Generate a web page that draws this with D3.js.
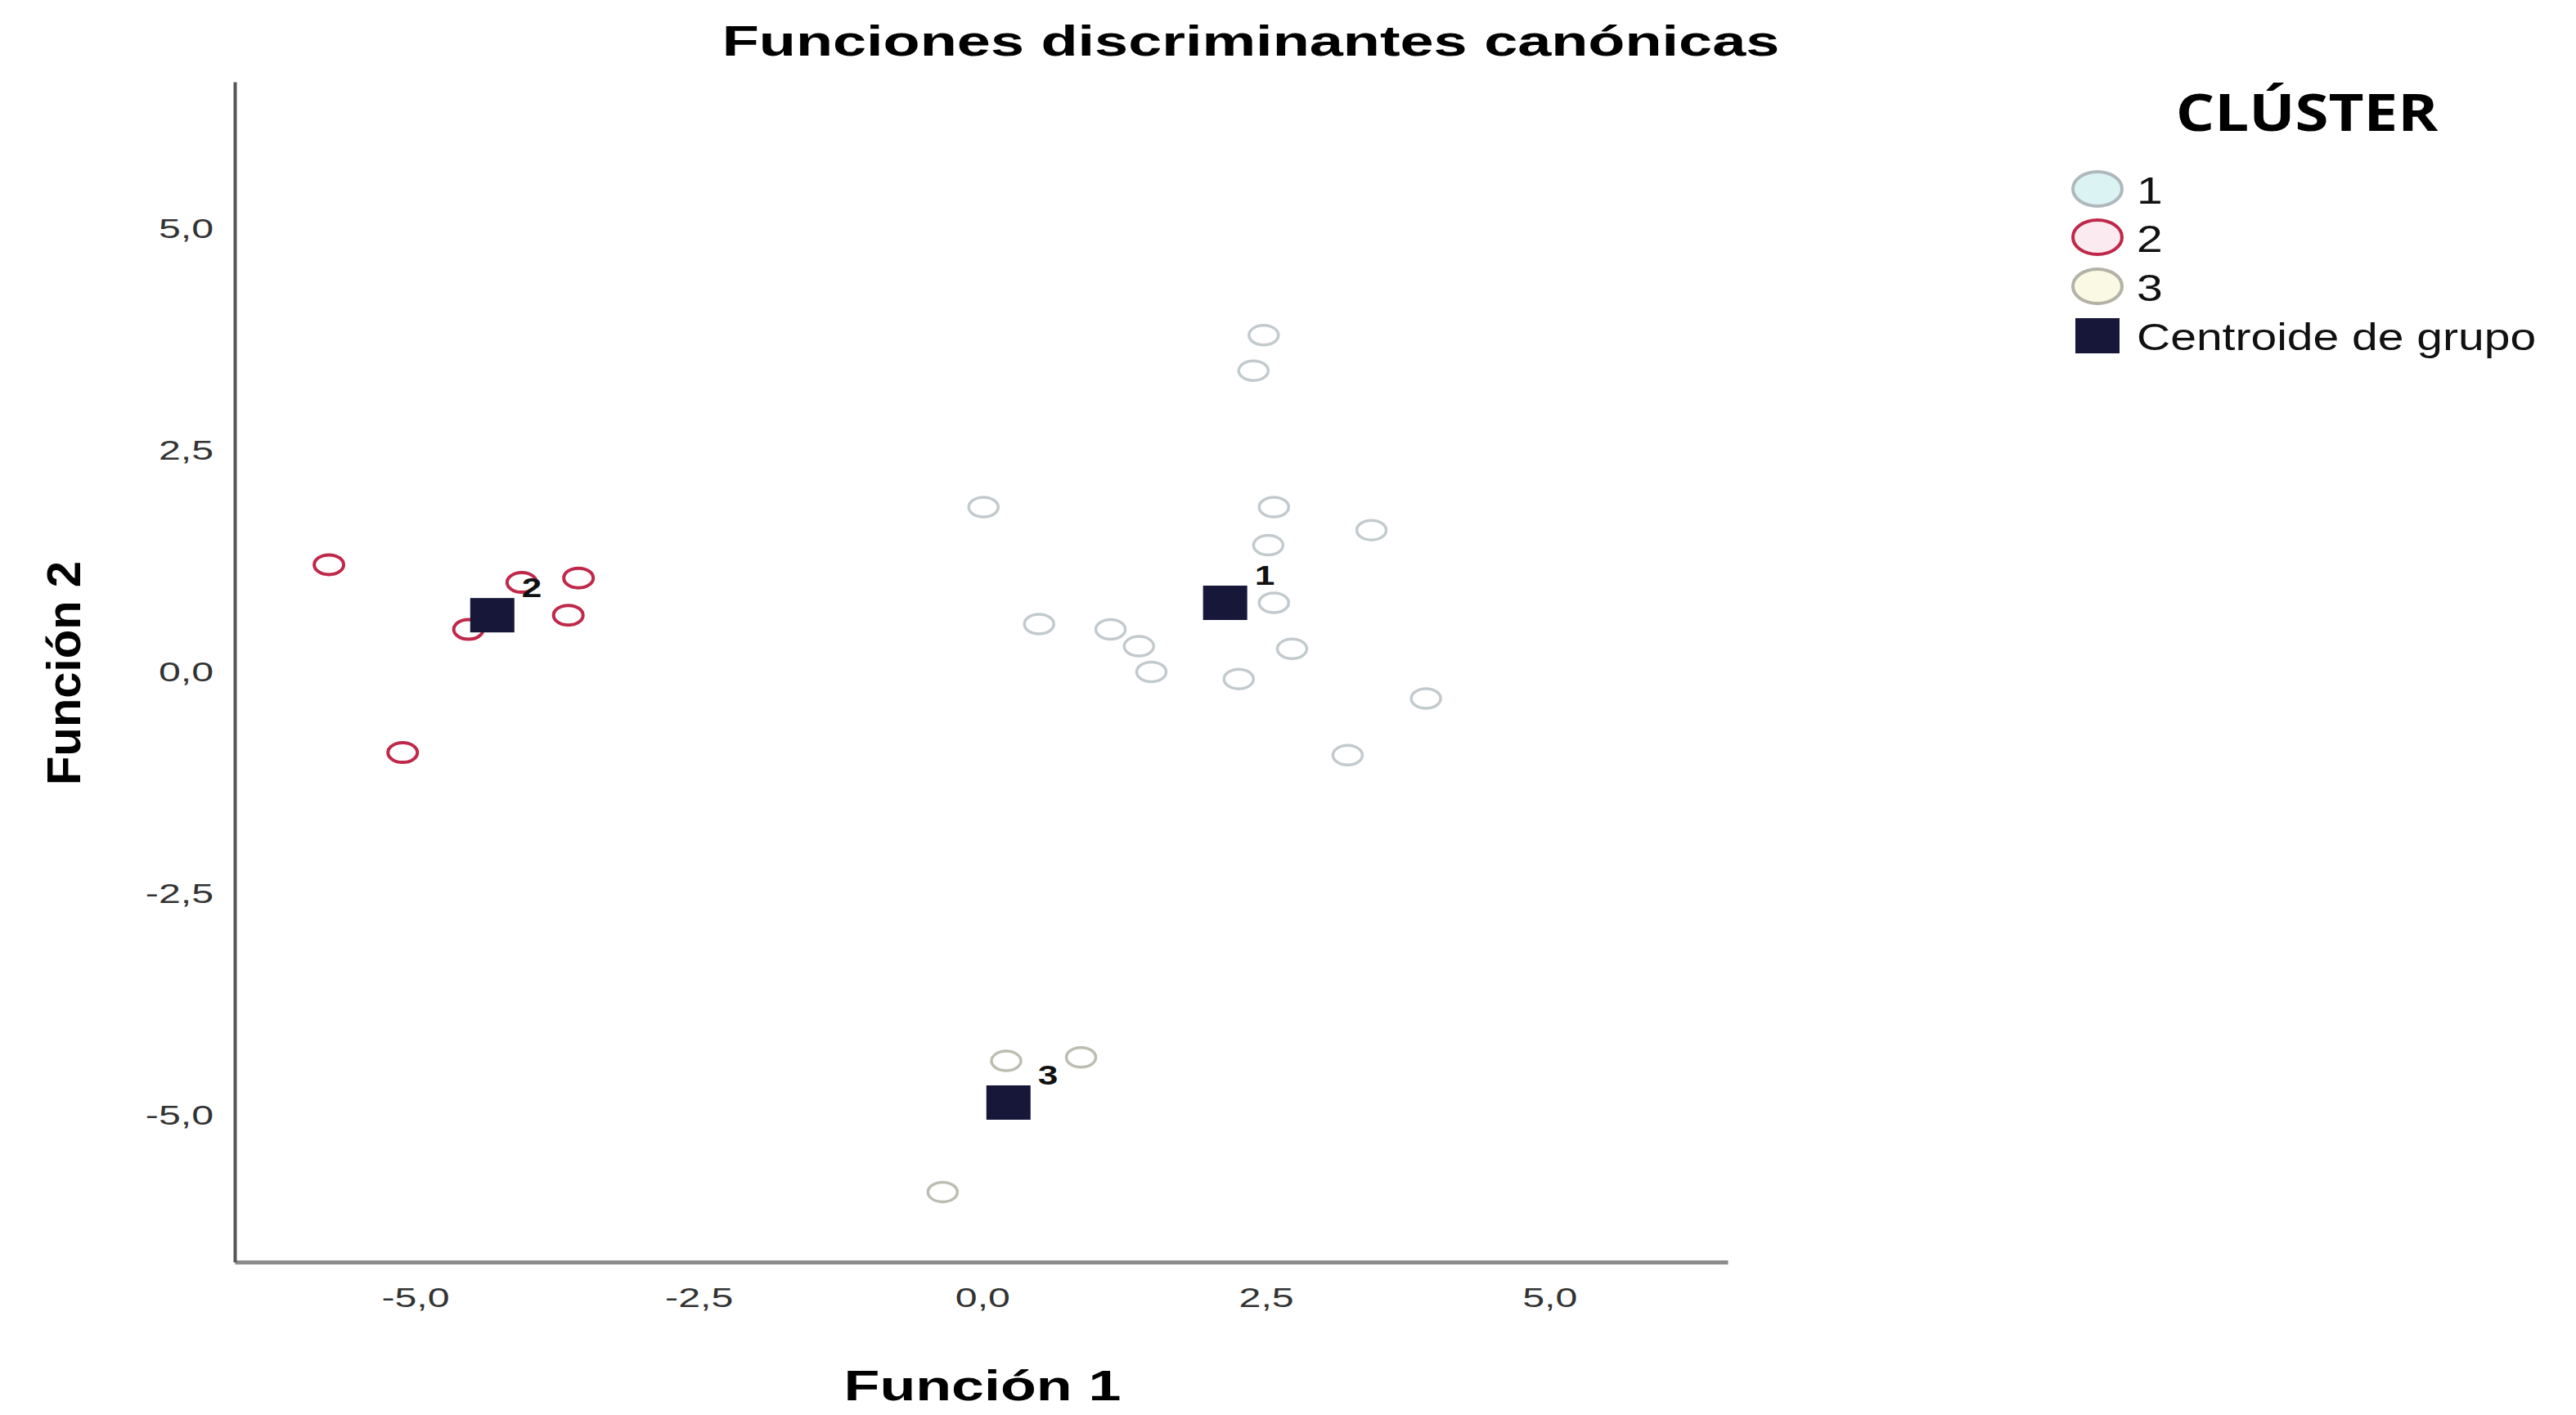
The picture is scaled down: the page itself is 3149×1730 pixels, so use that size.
<!DOCTYPE html>
<html lang="es">
<head>
<meta charset="utf-8">
<title>Funciones discriminantes canónicas</title>
<style>
    body { margin: 0; background: #fff; }
    svg text { font-family: "Liberation Sans", Arial, sans-serif; }
</style>
</head>
<body>
<svg id="chart" width="3149" height="1730"></svg>
<script src="https://cdn.jsdelivr.net/npm/d3@7"></script>
<script>
// values (Función 1, Función 2)
const cluster1 = [
    [2.48, 3.80], [2.39, 3.40], [0.01, 1.86], [2.57, 1.86], [2.52, 1.43],
    [2.57, 0.78], [0.50, 0.54], [1.13, 0.48], [1.38, 0.29], [1.49, 0.00],
    [2.73, 0.26], [2.26, -0.08], [3.22, -0.94], [3.43, 1.60], [3.91, -0.30]
];
const cluster2 = [
    [-5.76, 1.21], [-5.11, -0.91], [-4.53, 0.48], [-4.06, 1.01], [-3.56, 1.06], [-3.65, 0.64]
];
const cluster3 = [
    [0.21, -4.39], [0.87, -4.35], [-0.35, -5.87]
];
const centroidNames = ["1", "2", "3"];
const centroidX = [2.14, -4.32, 0.23];
const centroidY = [0.78, 0.64, -4.86];

const tickValues = [-5, -2.5, 0, 2.5, 5];
const tickLabels = ["-5,0", "-2,5", "0,0", "2,5", "5,0"];
const legendLabels = ["1", "2", "3", "Centroide de grupo"];

const clusterStroke = ["#c3cacd", "#c0284a", "#bdbdb2"];
const legendStroke = ["#aeb8bd", "#c0284a", "#b2b2a6"];
const clusterFill = ["#dcf3f3", "#fbeaf0", "#f9f9e4"];
const centroidColor = "#17173a";

const width = 3149, height = 1730;
const stretch = 1.42; // the picture is wider than tall, text looks stretched

const svg = d3.select("#chart");
svg.append("rect").attr("width", width).attr("height", height).attr("fill", "#fff");

const x = d3.scaleLinear().domain([-6.59, 6.57]).range([287, 2112]);
const y = d3.scaleLinear().domain([-6.66, 6.66]).range([1543, 100]);

//x-axis
const xAxis = d3.axisBottom(x)
    .tickValues(tickValues)
    .tickSize(0).tickSizeOuter(0)
    .tickPadding(31)
    .tickFormat((d, i) => tickLabels[i]);
const gx = svg.append("g")
    .attr("transform", `translate(0,${y(-6.66)})`)
    .call(xAxis);
gx.select(".domain").attr("stroke", "#8c8c8c").attr("stroke-width", 5);
gx.selectAll(".tick text")
    .attr("font-size", 34)
    .attr("fill", "#333")
    .attr("transform", `scale(${stretch},1)`);

//y-axis
const yAxis = d3.axisLeft(y)
    .tickValues(tickValues)
    .tickSize(0).tickSizeOuter(0)
    .tickPadding(26)
    .tickFormat((d, i) => tickLabels[i]);
const gy = svg.append("g")
    .attr("transform", `translate(${x(-6.59)},0)`)
    .call(yAxis);
gy.select(".domain").attr("stroke", "#555").attr("stroke-width", 4);
gy.selectAll(".tick text")
    .attr("font-size", 34)
    .attr("fill", "#333")
    .attr("x", -26 / stretch)
    .attr("transform", `scale(${stretch},1)`);

//titles
svg.append("text")
    .attr("transform", `translate(1529,68) scale(${stretch},1)`)
    .attr("text-anchor", "middle")
    .attr("font-size", 52).attr("font-weight", "bold")
    .text("Funciones discriminantes canónicas");

svg.append("text")
    .attr("transform", `translate(1201,1712) scale(1.38,1)`)
    .attr("text-anchor", "middle")
    .attr("font-size", 52).attr("font-weight", "bold")
    .text("Función 1");

svg.append("text")
    .attr("transform", "translate(98,823) rotate(-90)")
    .attr("text-anchor", "middle")
    .attr("font-size", 58).attr("font-weight", "bold")
    .text("Función 2");

//points
const plot = svg.append("g");
[cluster1, cluster2, cluster3].forEach((pts, c) => {
    plot.selectAll(null)
        .data(pts)
        .enter()
        .append("ellipse")
        .attr("cx", d => x(d[0]))
        .attr("cy", d => y(d[1]))
        .attr("rx", 18)
        .attr("ry", 12)
        .attr("fill", "none")
        .attr("stroke", clusterStroke[c])
        .attr("stroke-width", c === 1 ? 4 : 3.5);
});

//centroids
plot.selectAll("rect.centroid")
    .data(centroidNames)
    .enter()
    .append("rect")
    .attr("class", "centroid")
    .attr("x", (d, i) => x(centroidX[i]) - 27)
    .attr("y", (d, i) => y(centroidY[i]) - 21)
    .attr("width", 54)
    .attr("height", 42)
    .attr("fill", centroidColor);

plot.selectAll("text.clabel")
    .data(centroidNames)
    .enter()
    .append("text")
    .attr("class", "clabel")
    .attr("transform", (d, i) => `translate(${x(centroidX[i]) + 36},${y(centroidY[i]) - 22}) scale(1.3,1)`)
    .attr("font-size", 34).attr("font-weight", "bold")
    .attr("fill", "#111")
    .text(d => d);

//legend
const legend = svg.append("g");
legend.append("text")
    .attr("transform", "translate(2820,160) scale(1.2,1)")
    .attr("text-anchor", "middle")
    .style("font-family", "'Open Sans', 'Noto Sans', sans-serif")
    .attr("font-size", 62).attr("font-weight", "bold")
    .text("CLÚSTER");

const rowY = [231, 290, 350, 410];
legend.selectAll("ellipse")
    .data(centroidNames)
    .enter()
    .append("ellipse")
    .attr("cx", 2564)
    .attr("cy", (d, i) => rowY[i])
    .attr("rx", 30)
    .attr("ry", 21)
    .attr("fill", (d, i) => clusterFill[i])
    .attr("stroke", (d, i) => legendStroke[i])
    .attr("stroke-width", 4);

legend.append("rect")
    .attr("x", 2537).attr("y", rowY[3] - 21)
    .attr("width", 54).attr("height", 43)
    .attr("fill", centroidColor);

legend.selectAll("text.item")
    .data(legendLabels)
    .enter()
    .append("text")
    .attr("class", "item")
    .attr("transform", (d, i) => `translate(2612,${rowY[i] + 18}) scale(1.24,1)`)
    .attr("font-size", 46)
    .attr("fill", "#111")
    .text(d => d);
</script>
</body>
</html>
